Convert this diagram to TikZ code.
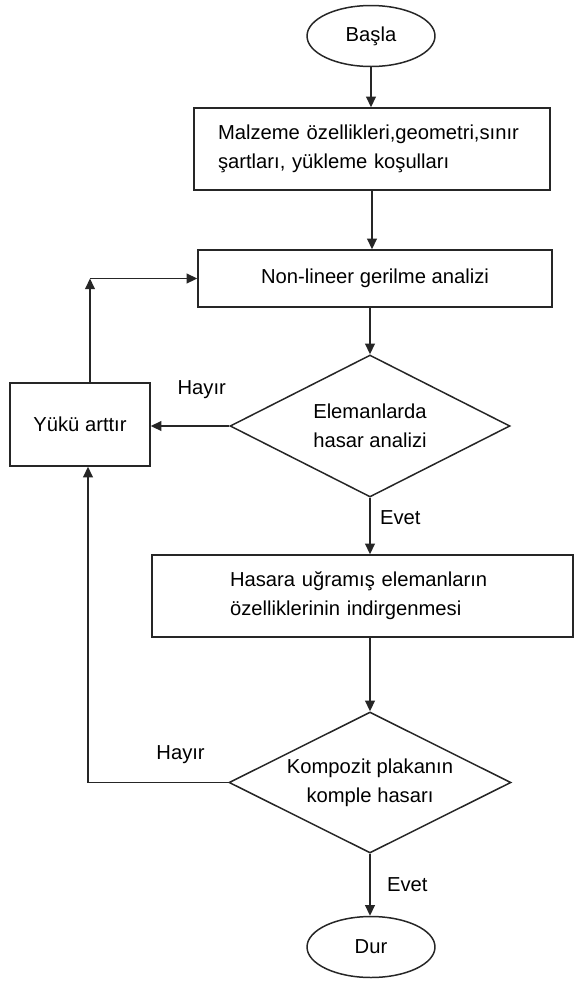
\documentclass[tikz,border=0pt]{standalone}
\usepackage{fontspec}
\setmainfont{Liberation Sans}
\usetikzlibrary{shapes.geometric,arrows.meta}

\begin{document}
\begin{tikzpicture}[x=0.02cm, y=-0.02cm,
    font=\fontsize{11.5}{16.5}\selectfont,
    line/.style={draw=black!85, line width=0.85pt},
    arr/.style={line, -{Triangle[length=6pt,width=5.5pt]}},
    blok/.style={line, rectangle, inner sep=0pt},
    karar/.style={line, diamond, aspect=2, inner sep=0pt, align=center},
    uc/.style={line, ellipse, minimum width=2.56cm, minimum height=1.22cm}]
    \useasboundingbox (0,0) rectangle (579,988);
    % Draw blocks
    \node[uc] (basla) at (371,36) {Başla};
    \node[blok, text width=6.16cm, inner xsep=0.48cm, align=left, minimum height=1.64cm] (malzeme) at (372,149) {Malzeme özellikleri,geometri,sınır\\şartları, yükleme koşulları};
    \node[blok, minimum width=7.08cm, minimum height=1.14cm] (nonlin) at (375,278.5) {Non-lineer gerilme analizi};
    \node[karar, minimum width=5.6cm, minimum height=2.84cm] (hasar) at (370,426) {Elemanlarda\\hasar analizi};
    \node[blok, minimum width=2.8cm, minimum height=1.66cm] (yuku) at (80,424.5) {Yükü arttır};
    \node[blok, text width=5.3cm, inner xsep=1.56cm, align=left, minimum height=1.64cm] (indirgen) at (362.5,596) {Hasara uğramış elemanların\\özelliklerinin indirgenmesi};
    \node[karar, minimum width=5.64cm, minimum height=2.82cm] (kompozit) at (370,782.5) {Kompozit plakanın\\komple hasarı};
    \node[uc] (dur) at (371,947) {Dur};
    % corner for the loop back
    \coordinate (kose) at (90,278.5);

    \draw[arr] (basla.south) -- (basla.south |- malzeme.north);
    \draw[arr] (malzeme.south) -- (malzeme.south |- nonlin.north);
    \draw[arr] (hasar.north |- nonlin.south) -- (hasar.north);
    \draw[arr] (hasar.west) -- (hasar.west -| yuku.east) node[pos=0.35, above=12pt] (hayir1) {Hayır};
    \draw[arr] (kose |- yuku.north) -- (kose);
    \draw[arr] (kose) -- (nonlin.west);
    \draw[arr] (hasar.south) -- (hasar.south |- indirgen.north) node[pos=0.36, right=2pt] (evet1) {Evet};
    \draw[arr] (kompozit.north |- indirgen.south) -- (kompozit.north);
    \draw[arr] (kompozit.west) -| ([xshift=0.16cm]yuku.south) node[pos=0.17, above=7pt] (hayir2) {Hayır};
    \draw[arr] (kompozit.south) -- (kompozit.south |- dur.north) node[midway, right=6pt] (evet2) {Evet};
\end{tikzpicture}
\end{document}
